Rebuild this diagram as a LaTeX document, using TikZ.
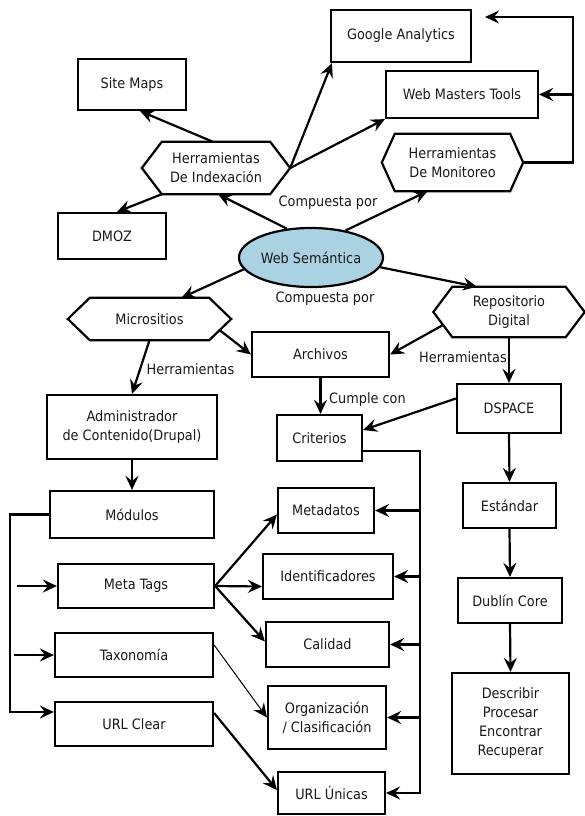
\documentclass[tikz,border=0pt]{standalone}
\usepackage{fontspec}
\setmainfont{DejaVu Sans Condensed}
\usetikzlibrary{arrows.meta,calc,shapes.geometric}
\newcommand{\dgfs}{\fontsize{14.3}{19}\selectfont}
\definecolor{wsblue}{RGB}{170,210,226}
\definecolor{ink}{RGB}{25,25,25}
\newcommand{\hexnode}[7]{%
  \node[hexbox, minimum width=#4-2*#6, minimum height=#5] (#1) at (#2,#3) {#7};
  \draw[hexline] (#1.north west) -- (#1.north east) -- ($(#1.east)+(#6,0)$) -- (#1.south east) -- (#1.south west) -- ($(#1.west)+(-#6,0)$) -- cycle;
}
\begin{document}
\begin{tikzpicture}[x=1pt,y=-1pt,
  box/.style={draw, line width=2.2pt, inner sep=0pt, align=center, font=\dgfs, text=ink},
  hexbox/.style={draw=none, inner sep=0pt, align=center, font=\dgfs, text=ink},
  hexline/.style={line width=2.2pt, line join=miter},
  ell/.style={ellipse, draw, line width=2.2pt, fill=wsblue, inner sep=0pt, font=\dgfs, text=ink},
  lbl/.style={inner sep=0pt, font=\dgfs, text=ink},
  arr/.style={line width=2.2pt, -{Stealth[length=14pt,width=13pt,inset=5pt]}},
  thinarr/.style={line width=1pt, -{Stealth[length=14pt,width=13pt,inset=5pt]}},
  plain/.style={line width=2.2pt}]
\useasboundingbox (0,0) rectangle (585,816);
\fill[white] (0,0) rectangle (585,816);

% top
\node[box, minimum width=108, minimum height=51] (SM) at (132,84.5) {Site Maps};
\node[box, minimum width=108, minimum height=46] (DMOZ) at (112,236) {DMOZ};
\node[box, minimum width=140, minimum height=52] (GA) at (401,36) {Google Analytics};
\node[box, minimum width=152, minimum height=47] (WMT) at (462,94.5) {Web Masters Tools};
\hexnode{HI}{216}{168}{148}{52}{20}{Herramientas\\De Indexación}
\hexnode{HM}{452.5}{162.5}{141}{57}{13}{Herramientas\\De Monitoreo}
\node[ell, minimum width=144, minimum height=59] (WS) at (311,257.5) {Web Semántica};

% middle
\hexnode{MIC}{149.5}{319}{163}{42}{22}{Micrositios}
\hexnode{REP}{509}{312}{151}{50}{19}{Repositorio\\Digital}
\node[box, minimum width=137, minimum height=45] (ARCH) at (320.5,354.5) {Archivos};
\node[box, minimum width=170, minimum height=64] (ADM) at (132,427) {Administrador\\de Contenido(Drupal)};
\node[box, minimum width=104, minimum height=49] (DSP) at (509,408.5) {DSPACE};
\node[box, minimum width=85, minimum height=46] (CRIT) at (319.5,438) {Criterios};

% lower left
\node[box, minimum width=164, minimum height=47] (MOD) at (132,514.5) {Módulos};
\node[box, minimum width=156, minimum height=44] (MT) at (136,586) {Meta Tags};
\node[box, minimum width=158, minimum height=44] (TAX) at (134,655) {Taxonomía};
\node[box, minimum width=158, minimum height=44] (URLC) at (134,724) {URL Clear};

% criteria column
\node[box, minimum width=96, minimum height=45] (META) at (326,510.5) {Metadatos};
\node[box, minimum width=130, minimum height=45] (IDEN) at (328,576.5) {Identificadores};
\node[box, minimum width=123, minimum height=45] (CAL) at (327.5,644.5) {Calidad};
\node[box, minimum width=118, minimum height=63] (ORG) at (327,717.5) {Organización\\/ Clasificación};
\node[box, minimum width=107, minimum height=42] (URLU) at (331.5,793) {URL Únicas};

% right column
\node[box, minimum width=93, minimum height=45] (EST) at (509.5,505.5) {Estándar};
\node[box, minimum width=104, minimum height=45] (DC) at (510,600.5) {Dublín Core};
\node[box, minimum width=117, minimum height=101] (DESC) at (510.5,723.5) {Describir\\Procesar\\Encontrar\\Recuperar};

% labels
\node[lbl] (L1) at (328,203) {Compuesta por};
\node[lbl] (L2) at (325,299) {Compuesta por};
\node[lbl] (L3) at (190.5,369) {Herramientas};
\node[lbl] (L4) at (463,357) {Herramientas};
\node[lbl] (L5) at (367.5,400) {Cumple con};

% coordinates
\coordinate (HIr) at ($(HI.east)+(20,0)$);
\coordinate (HMr) at ($(HM.east)+(13,0)$);
\coordinate (cornerR) at (573,17);
\coordinate (GAin) at (485,17);
\coordinate (critOut) at ($(CRIT.east)+(0,13)$);
\coordinate (bx) at (420,0);
\coordinate (lx) at (10,0);
\coordinate (URLCin) at ($(URLC.west)+(0,-12)$);
\coordinate (MTs) at (17,586);
\coordinate (TAXs) at (14,655);

% connectors top
\draw[arr] ($(HI.north)+(-3,0)$) -- ($(SM.south)+(8,0)$);
\draw[arr] (HI.south west) -- ($(DMOZ.north)+(5,0)$);
\draw[arr] (WS.130) -- ($(HI.south)+(2,0)$);
\draw[arr] (HIr) -- ($(GA.south west)+(2,0)$);
\draw[arr] (HIr) -- (WMT.south west);
\draw[arr] (WS.38) -- ($(HM.south)+(-25,0)$);
\draw[arr] (HMr) -| (cornerR) -- (GAin);
\draw[arr] (cornerR |- WMT.east) -- (WMT.east);

% connectors middle
\draw[arr] (WS.190) -- ($(MIC.north)+(32,0)$);
\draw[arr] (WS.-8) -- ($(REP.north)+(-32,0)$);
\draw[arr] ($(MIC.center)+(70,11)$) -- (ARCH.west);
\draw[arr] (MIC.south) -- (ADM.north);
\draw[arr] ($(REP.center)+(-66,13)$) -- (ARCH.east);
\draw[arr] (REP.south) -- (DSP.north);
\draw[arr] ($(DSP.west)+(0,-10)$) -- ($(CRIT.east)+(0,-8)$);
\draw[arr] (ARCH.south) -- (ARCH.south |- CRIT.north);

% criteria bus
\draw[arr] (critOut) -| (bx |- URLU.east) -- (URLU.east);
\foreach \t in {META,IDEN,CAL,ORG} \draw[arr] (bx |- \t.east) -- (\t.east);

% left bracket
\draw[arr] (MOD.west) -- (MOD.west -| lx) -- (lx |- URLCin) -- (URLCin);
\draw[arr] (MTs) -- (MT.west);
\draw[arr] (TAXs) -- (TAX.west);
\draw[arr] (ADM.south) -- (MOD.north);

% meta tags branches
\draw[arr] (MT.east) -- ($(META.west)+(0,4)$);
\draw[arr] (MT.east) -- ($(IDEN.west)+(0,10)$);
\draw[arr] (MT.east) -- ($(CAL.west)+(0,-3)$);
\draw[thinarr] ($(TAX.east)+(0,-10)$) -- (ORG.west);
\draw[arr] ($(URLC.east)+(0,-11)$) -- ($(URLU.west)+(0,-3)$);

% right column
\draw[arr] (DSP.south) -- (EST.north);
\draw[arr] (EST.south) -- (DC.north);
\draw[arr] (DC.south) -- (DESC.north);
\end{tikzpicture}
\end{document}
